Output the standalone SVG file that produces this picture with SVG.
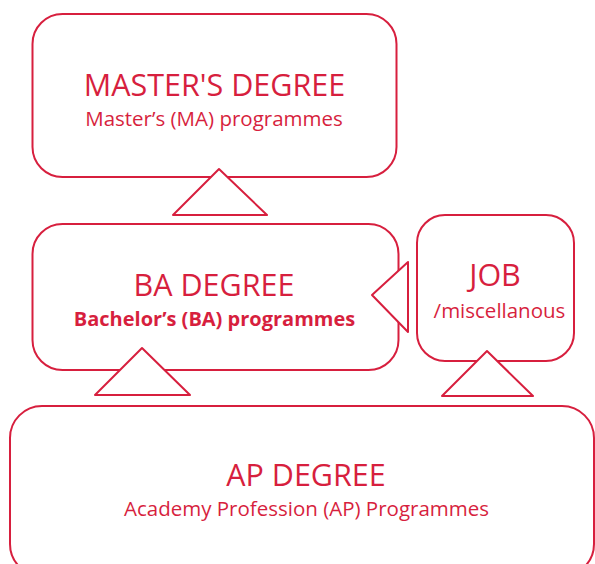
<svg xmlns="http://www.w3.org/2000/svg" width="595" height="564" viewBox="0 0 595 564">
<style>
.box{fill:#fff;stroke:#d71f3e;stroke-width:2}
.tri{fill:#fff;stroke:#d71f3e;stroke-width:2;stroke-linejoin:round}
text{font-family:"Open Sans","Noto Sans",sans-serif;fill:#d71f3e;text-anchor:middle}
.t{font-size:30.5px}
.s{font-size:20.5px}
.b{font-size:20px;font-weight:bold}
</style>
<rect width="595" height="564" fill="#fff"/>
<g id="master">
<rect class="box" x="32.5" y="14" width="364" height="163" rx="30"/>
<text class="t" x="214.5" y="96">MASTER'S DEGREE</text>
<text class="s" x="214" y="126">Master’s (MA) programmes</text>
</g>
<g id="ba">
<rect class="box" x="32.5" y="224" width="366" height="146" rx="30"/>
<text class="t" x="214" y="296">BA DEGREE</text>
<text class="b" x="214.5" y="326">Bachelor’s (BA) programmes</text>
</g>
<g id="job">
<rect class="box" x="417" y="215" width="157" height="146" rx="28"/>
<text class="t" x="495" y="286">JOB</text>
<text class="s" x="499.5" y="318">/miscellanous</text>
</g>
<g id="ap">
<rect class="box" x="10" y="406" width="584" height="170" rx="32"/>
<text class="t" x="306" y="486">AP DEGREE</text>
<text class="s" x="306.5" y="516">Academy Profession (AP) Programmes</text>
</g>
<g id="connectors">
<polygon class="tri" points="219,169 267,215 173,215"/>
<polygon class="tri" points="372,295 408,262 408,332"/>
<polygon class="tri" points="142,348 190,395 95,395"/>
<polygon class="tri" points="487,351 533,396 442,396"/>
</g>
</svg>
